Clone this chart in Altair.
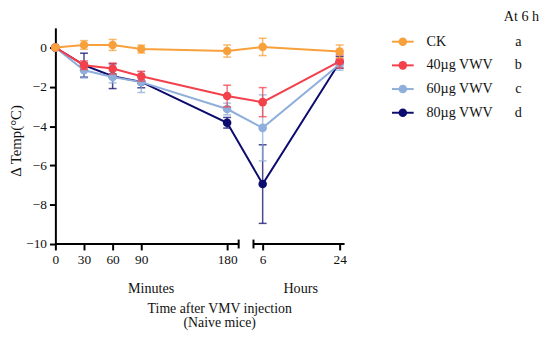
import json
import altair as alt
import pandas as pd

# ---------------- data ----------------
minutes = [0, 30, 60, 90, 180]
hours = [6, 24]
tick_labels = ["0", "30", "60", "90", "180", "6", "24"]
series = ["CK", "40µg VWV", "60µg VWV", "80µg VWV"]
letters = ["a", "b", "c", "d"]
colors = ["#F8A03C", "#F3414B", "#8EAEDB", "#0C0C6E"]

mean_ck = [0, 0.13, 0.13, -0.08, -0.18, 0.03, -0.2]
mean_40 = [0, -0.9, -1.07, -1.46, -2.47, -2.78, -0.7]
mean_60 = [0, -1.16, -1.5, -1.76, -3.13, -4.09, -0.85]
mean_80 = [0, -0.9, -1.46, -1.75, -3.83, -6.95, -0.75]

sem_ck = [0, 0.22, 0.28, 0.2, 0.31, 0.44, 0.33]
sem_40 = [0, 0.22, 0.28, 0.25, 0.55, 0.74, 0.34]
sem_60 = [0, 0.39, 0.3, 0.53, 0.3, 1.68, 0.3]
sem_80 = [0, 0.61, 0.63, 0.3, 0.27, 2.0, 0.3]

means = [mean_ck, mean_40, mean_60, mean_80]
sems = [sem_ck, sem_40, sem_60, sem_80]

# ---------------- broken time axis mapping ----------------
W, H = 293, 219
MIN_SCALE = 174 / 180          # position units per minute
HR_START, HR_SCALE = 210, 78 / 18   # position of 6 h, units per hour
SEG1_END, SEG2_START = 185.7, 200.7

pos = [round(m * MIN_SCALE, 3) for m in minutes] + \
      [round(HR_START + (h - 6) * HR_SCALE, 3) for h in hours]

label_expr = f"{json.dumps(tick_labels)}[indexof({json.dumps(pos)}, datum.value)]"

FONT = "Liberation Serif"
xscale = alt.Scale(domain=[0, W], nice=False, zero=False)
yscale = alt.Scale(domain=[-10, 1], nice=False, zero=False)

xaxis = alt.Axis(values=pos, labelExpr=label_expr, domain=False, grid=False,
                 tickSize=6, tickWidth=2, tickColor="black",
                 labelFont=FONT, labelFontSize=13.5, labelColor="#111",
                 labelPadding=3, labelFlush=False, labelOverlap=False, title=None)
yaxis = alt.Axis(values=[0, -2, -4, -6, -8, -10], grid=False,
                 domainWidth=2, domainColor="black", tickSize=6, tickWidth=2,
                 tickColor="black", labelFont=FONT, labelFontSize=13.5,
                 labelColor="#111", labelPadding=3,
                 title="Δ Temp(°C)", titleFont=FONT, titleFontSize=15,
                 titleFontWeight="normal", titleColor="#111", titlePadding=2,
                 titleY=114)

X = alt.X("pos:Q", scale=xscale, axis=xaxis)

layers = []
draw_order = [3, 2, 1, 0]
for k in draw_order:
    df = pd.DataFrame({
        "pos": pos,
        "mean": means[k],
        "lo": [m - s for m, s in zip(means[k], sems[k])],
        "hi": [m + s for m, s in zip(means[k], sems[k])],
    })
    c = colors[k]
    base = alt.Chart(df)
    layers.append(base.mark_rule(color=c, strokeWidth=1.5, opacity=0.75).encode(
        x=X, y=alt.Y("lo:Q", scale=yscale, axis=yaxis), y2="hi:Q"))
    layers.append(base.mark_tick(color=c, orient="horizontal", size=8, thickness=1.5,
                                 opacity=0.75).encode(
        x=X, y=alt.Y("lo:Q", scale=yscale, axis=yaxis)))
    layers.append(base.mark_tick(color=c, orient="horizontal", size=8, thickness=1.5,
                                 opacity=0.75).encode(
        x=X, y=alt.Y("hi:Q", scale=yscale, axis=yaxis)))
    layers.append(base.mark_line(color=c, strokeWidth=2).encode(
        x=X, y=alt.Y("mean:Q", scale=yscale, axis=yaxis)))
    layers.append(base.mark_point(color=c, filled=True, opacity=1, size=75).encode(
        x=X, y=alt.Y("mean:Q", scale=yscale, axis=yaxis)))

# broken x-axis line with end caps
segs = pd.DataFrame({"a": [0, SEG2_START], "b": [SEG1_END, W]})
layers.append(alt.Chart(segs).mark_rule(color="black", strokeWidth=2).encode(
    x=alt.X("a:Q", scale=xscale, axis=xaxis), x2="b:Q",
    y=alt.datum(-10, scale=yscale)))
caps = pd.DataFrame({"a": [SEG1_END, SEG2_START]})
layers.append(alt.Chart(caps).mark_rule(color="black", strokeWidth=2).encode(
    x=alt.X("a:Q", scale=xscale, axis=xaxis), y=alt.value(H - 4.5), y2=alt.value(H + 4.5)))

one = pd.DataFrame({"d": [0]})

def text(t, x, y, align="center", size=14.3):
    return alt.Chart(one).mark_text(text=t, font=FONT, fontSize=size, color="#111",
                                    align=align, baseline="middle").encode(
        x=alt.value(x), y=alt.value(y))

layers += [
    text("Minutes", 97, 265),
    text("Hours", 248.5, 265),
    text("Time after VMV injection", 166.5, 285, size=14),
    text("(Naive mice)", 166.5, 299, size=14),
]

# custom legend
layers.append(text("At 6 h", 490, -11, align="right"))
for i, (name, letter, c) in enumerate(zip(series, letters, colors)):
    yy = 14 + 24 * i
    layers.append(alt.Chart(one).mark_rule(color=c, strokeWidth=2).encode(
        x=alt.value(341), x2=alt.value(363), y=alt.value(yy)))
    layers.append(alt.Chart(one).mark_point(color=c, filled=True, opacity=1, size=75).encode(
        x=alt.value(352), y=alt.value(yy)))
    layers.append(text(name, 376, yy, align="left"))
    layers.append(text(letter, 469, yy))

chart = alt.layer(*layers).properties(
    width=W, height=H,
    autosize=alt.AutoSizeParams(type="none"),
    padding={"left": 48, "top": 18, "right": 200, "bottom": 86},
).configure(font=FONT, background="white").configure_view(
    stroke=None
).configure_axis(labelFont=FONT, titleFont=FONT)

chart.save("out.html", embed_options={"renderer": "svg", "actions": False})
